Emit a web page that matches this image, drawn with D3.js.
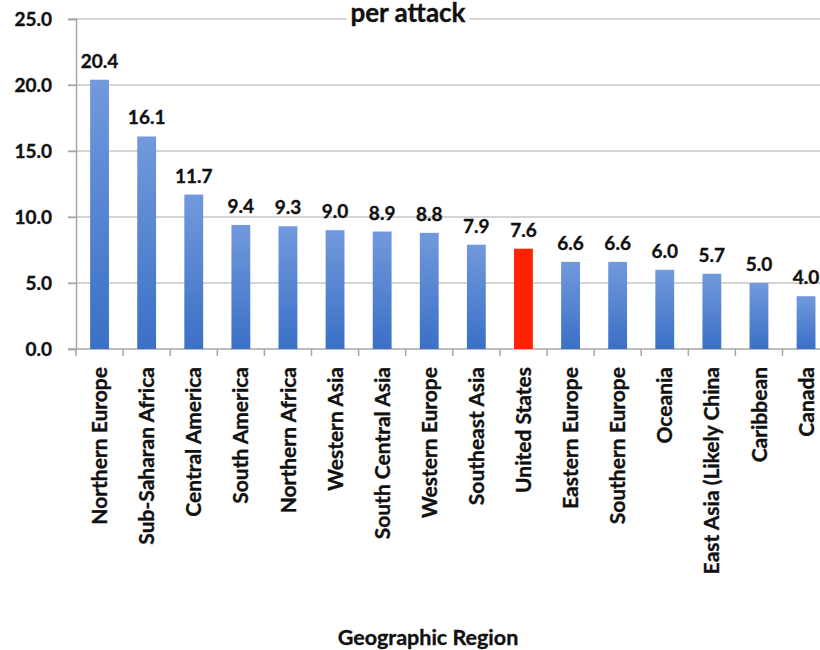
<!DOCTYPE html>
<html>
<head>
<meta charset="utf-8">
<script src="https://cdn.jsdelivr.net/npm/d3@7"></script>
<style>
  body { margin: 0; background: #fff; }
  text { font-family: Lato, "Open Sans", sans-serif; font-weight: bold; fill: #111; stroke: #111; stroke-width: 0.35px; }
</style>
</head>
<body>
<div id="chart"></div>
<script>
const regions = ['Northern Europe', 'Sub-Saharan Africa', 'Central America', 'South America',
  'Northern Africa', 'Western Asia', 'South Central Asia', 'Western Europe', 'Southeast Asia',
  'United States', 'Eastern Europe', 'Southern Europe', 'Oceania', 'East Asia (Likely China',
  'Caribbean', 'Canada'];
const values = [20.4, 16.1, 11.7, 9.4, 9.3, 9.0, 8.9, 8.8, 7.9, 7.6, 6.6, 6.6, 6.0, 5.7, 5.0, 4.0];
const yTicks = [0, 5, 10, 15, 20, 25];
const highlight = 'United States';

const width = 820;
const height = 650;
const margin = {left: 76, top: 19, bottom: 301};
const bandW = 47.1;

const svg = d3.select('#chart')
    .append('svg')
        .attr('width', width)
        .attr('height', height);

const defs = svg.append('defs');
const grad = defs.append('linearGradient')
    .attr('id', 'barGrad')
    .attr('x1', 0).attr('y1', 0).attr('x2', 0).attr('y2', 1);
grad.append('stop').attr('offset', '0%').attr('stop-color', '#7299dc');
grad.append('stop').attr('offset', '100%').attr('stop-color', '#3a70c6');

const x = d3.scaleBand()
    .domain(regions)
    .range([margin.left, margin.left + bandW * regions.length])
    .paddingInner(0.6)
    .paddingOuter(0.3);

const y = d3.scaleLinear()
    .domain([0, 25])
    .range([height - margin.bottom, margin.top]);

// gridlines
svg.append('g')
    .selectAll('line')
    .data(yTicks.filter(d => d > 0))
    .enter()
    .append('line')
        .attr('x1', margin.left - 8)
        .attr('x2', width)
        .attr('y1', d => y(d))
        .attr('y2', d => y(d))
        .attr('stroke', '#c6c6c6')
        .attr('stroke-width', 1.5);

// y axis
const yAxis = svg.append('g')
    .attr('transform', `translate(${margin.left},0)`)
    .call(d3.axisLeft(y).tickValues(yTicks).tickFormat(d3.format('.1f')).tickSize(8).tickPadding(16));
yAxis.select('.domain').attr('stroke', '#a6a6a6').attr('stroke-width', 1.5);
yAxis.selectAll('.tick line').attr('stroke', '#a6a6a6').attr('stroke-width', 1.5);
yAxis.selectAll('.tick text').attr('font-size', 19).attr('fill', '#111')
    .attr('font-family', 'Lato, sans-serif').attr('font-weight', 'bold');

// x axis line + ticks at band boundaries
const xAxisY = y(0);
svg.append('line')
    .attr('x1', margin.left - 8).attr('x2', width)
    .attr('y1', xAxisY).attr('y2', xAxisY)
    .attr('stroke', '#a6a6a6').attr('stroke-width', 1.5);
svg.append('g')
    .selectAll('line')
    .data(d3.range(regions.length + 1))
    .enter()
    .append('line')
        .attr('x1', i => margin.left + i * bandW)
        .attr('x2', i => margin.left + i * bandW)
        .attr('y1', xAxisY)
        .attr('y2', xAxisY + 7)
        .attr('stroke', '#a6a6a6')
        .attr('stroke-width', 1.5);

// bars
svg.append('g')
    .selectAll('rect')
    .data(regions)
    .enter()
    .append('rect')
        .attr('x', d => x(d))
        .attr('y', (d, i) => y(values[i]))
        .attr('width', x.bandwidth())
        .attr('height', (d, i) => y(0) - y(values[i]))
        .attr('fill', d => d === highlight ? '#ff2200' : 'url(#barGrad)');

// value labels
svg.append('g')
    .selectAll('text')
    .data(regions)
    .enter()
    .append('text')
        .attr('x', d => x(d) + x.bandwidth() / 2)
        .attr('y', (d, i) => y(values[i]) - 12)
        .attr('text-anchor', 'middle')
        .attr('font-size', 19)
        .text((d, i) => d3.format('.1f')(values[i]));

// category labels
svg.append('g')
    .selectAll('text')
    .data(regions)
    .enter()
    .append('text')
        .attr('transform', d => `translate(${x(d) + x.bandwidth() / 2},${xAxisY + 18}) rotate(-90)`)
        .attr('dy', '0.36em')
        .attr('text-anchor', 'end')
        .attr('font-size', 21)
        .text(d => d);

// title (top cut off in the source)
const title = svg.append('text')
    .attr('x', 408)
    .attr('y', 22)
    .attr('text-anchor', 'middle')
    .attr('font-size', 26)
    .text('per attack');
const bb = title.node().getBBox();
svg.insert('rect', () => title.node())
    .attr('x', bb.x - 4).attr('y', bb.y)
    .attr('width', bb.width + 8).attr('height', bb.height)
    .attr('fill', '#fff');

// axis title
svg.append('text')
    .attr('x', 428)
    .attr('y', 645)
    .attr('text-anchor', 'middle')
    .attr('font-size', 21.5)
    .text('Geographic Region');
</script>
</body>
</html>
